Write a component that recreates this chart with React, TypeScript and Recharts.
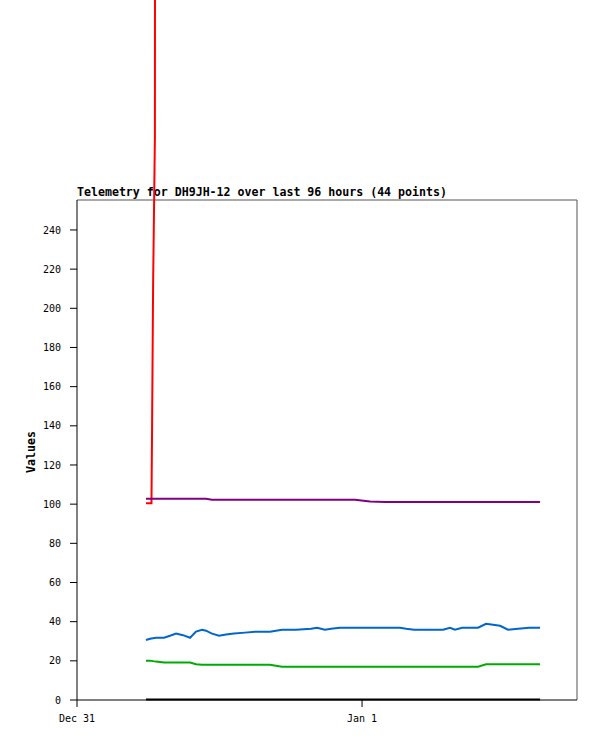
import { LineChart, Line, XAxis, YAxis, ReferenceLine } from "recharts";

// hours since Dec 31 00:00
const times = [
  5.81, 6.15, 6.65, 7.33, 7.83, 8.34, 8.93, 9.52, 10.02, 10.53, 10.86, 11.37,
  11.96, 12.55, 13.22, 14.15, 14.99, 16.25, 17.26, 18.44, 19.71, 20.21, 20.88,
  21.39, 22.15, 23.41, 24.67, 25.94, 27.2, 27.71, 28.38, 29.56, 30.82, 31.41,
  31.83, 32.42, 33.77, 34.44, 35.03, 35.62, 36.29, 37.14, 38.06, 38.99,
];

const purple = [
  102.8, 102.8, 102.8, 102.8, 102.8, 102.8, 102.8, 102.8, 102.8, 102.8, 102.8,
  102.3, 102.3, 102.3, 102.3, 102.3, 102.3, 102.3, 102.3, 102.3, 102.3, 102.3,
  102.3, 102.3, 102.3, 102.3, 101.4, 101.1, 101.1, 101.1, 101.1, 101.1, 101.1,
  101.1, 101.1, 101.1, 101.1, 101.1, 101.1, 101.1, 101.1, 101.1, 101.1, 101.1,
];

const blue = [
  30.6, 31.3, 31.8, 31.8, 32.8, 33.9, 33.1, 31.8, 34.9, 35.9, 35.4, 33.9, 32.8,
  33.4, 33.9, 34.4, 34.9, 34.9, 35.9, 35.9, 36.4, 36.9, 35.9, 36.4, 36.9, 36.9,
  36.9, 36.9, 36.9, 36.4, 35.9, 35.9, 35.9, 36.9, 35.9, 36.9, 36.9, 38.9, 38.4,
  37.9, 35.9, 36.4, 36.9, 36.9,
];

const green = [
  20.1, 20.1, 19.6, 19.1, 19.1, 19.1, 19.1, 19.1, 18.3, 18.0, 18.0, 18.0, 18.0,
  18.0, 18.0, 18.0, 18.0, 18.0, 17.0, 17.0, 17.0, 17.0, 17.0, 17.0, 17.0, 17.0,
  17.0, 17.0, 17.0, 17.0, 17.0, 17.0, 17.0, 17.0, 17.0, 17.0, 17.0, 18.2, 18.2,
  18.2, 18.2, 18.2, 18.2, 18.2,
];

const black = times.map(() => 0.2);

// red series has its own timestamps, climbs off the top of the plot
const redTimes = [5.81, 6.27, 6.32, 6.41, 6.56, 6.62];
const redValues = [100.5, 100.5, 138, 213, 288, 1000];

const yTicks = [0, 20, 40, 60, 80, 100, 120, 140, 160, 180, 200, 220, 240];
const xTicks = [0, 24];
const xTickLabels: Record<number, string> = { 0: "Dec 31", 24: "Jan 1" };
const xMax = 42.1;
const yMax = 255.3;

const title = "Telemetry for DH9JH-12 over last 96 hours (44 points)";

const data = times.map((t, i) => ({
  t,
  purple: purple[i],
  blue: blue[i],
  green: green[i],
  black: black[i],
}));

const redData = redTimes.map((t, i) => ({ t, v: redValues[i] }));

const mono = "DejaVu Sans Mono, monospace";
const tickStyle = { fontSize: 10, fontFamily: mono, fill: "#000" };

export default function App() {
  return (
    <div style={{ position: "relative", width: 597, height: 741 }}>
      <style>
        {
          "body{margin:0} .recharts-line, .recharts-line *{clip-path:none !important}"
        }
      </style>
      <svg
        width={597}
        height={741}
        style={{ position: "absolute", left: 0, top: 0 }}
      >
        <text
          x={77}
          y={196}
          fontFamily={mono}
          fontWeight="bold"
          fontSize={11.6}
          fill="#000"
        >
          {title}
        </text>
        <text
          x={31}
          y={452}
          transform="rotate(-90 31 452)"
          textAnchor="middle"
          dominantBaseline="central"
          fontFamily={mono}
          fontWeight="bold"
          fontSize={11.6}
          fill="#000"
        >
          Values
        </text>
      </svg>
      <div style={{ position: "absolute", left: 0, top: 0 }}>
        <LineChart
          width={597}
          height={741}
          data={data}
          margin={{ top: 200, right: 20, bottom: 11, left: 0 }}
        >
          <XAxis
            dataKey="t"
            type="number"
            domain={[0, xMax]}
            allowDataOverflow
            ticks={xTicks}
            interval={0}
            tickFormatter={(v) => xTickLabels[v] ?? ""}
            tickSize={7}
            tickMargin={8}
            height={30}
            stroke="#000"
            tick={tickStyle}
          />
          <YAxis
            type="number"
            domain={[0, yMax]}
            allowDataOverflow
            ticks={yTicks}
            interval={0}
            tickSize={7}
            tickMargin={9}
            width={77}
            stroke="#000"
            tick={tickStyle}
          />
          {/* plot frame, top and right */}
          <ReferenceLine y={yMax} stroke="#555" strokeWidth={1} />
          <ReferenceLine x={xMax} stroke="#555" strokeWidth={1} />
          <Line
            data={redData}
            dataKey="v"
            stroke="#ff0000"
            strokeWidth={2}
            dot={false}
            type="linear"
            isAnimationActive={false}
          />
          <Line
            dataKey="purple"
            stroke="#800080"
            strokeWidth={2}
            dot={false}
            type="linear"
            isAnimationActive={false}
          />
          <Line
            dataKey="blue"
            stroke="#0066cc"
            strokeWidth={2}
            dot={false}
            type="linear"
            isAnimationActive={false}
          />
          <Line
            dataKey="green"
            stroke="#00aa00"
            strokeWidth={2}
            dot={false}
            type="linear"
            isAnimationActive={false}
          />
          <Line
            dataKey="black"
            stroke="#000"
            strokeWidth={2}
            dot={false}
            type="linear"
            isAnimationActive={false}
          />
        </LineChart>
      </div>
    </div>
  );
}
